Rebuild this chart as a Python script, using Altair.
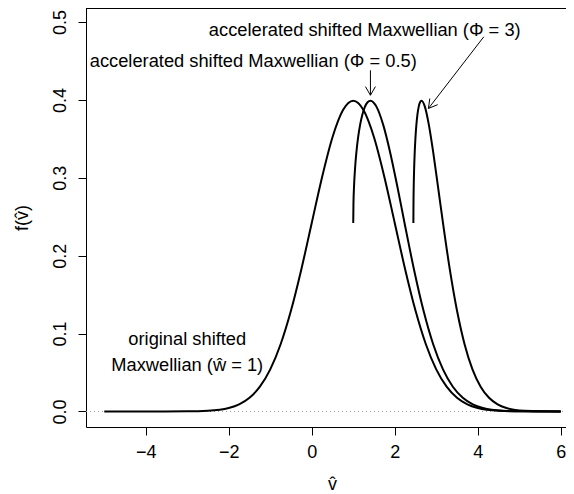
import math
import altair as alt
import pandas as pd

# ---------------- data ----------------
# original shifted Maxwellian (w = 1)
orig_x = [-5, -4, -3, -2.5, -2, -1.75, -1.5, -1.25, -1, -0.75, -0.5, -0.25, 0, 0.25, 0.5, 0.75,
          1, 1.25, 1.5, 1.75, 2, 2.25, 2.5, 2.75, 3, 3.25, 3.5, 3.75, 4, 4.5, 5, 6]
orig_y = [0.0, 0.0000015, 0.000134, 0.00087, 0.00443, 0.00909, 0.01753, 0.03174, 0.05399, 0.08628,
          0.12952, 0.18265, 0.24197, 0.30114, 0.35207, 0.38667, 0.39894, 0.38667, 0.35207, 0.30114,
          0.24197, 0.18265, 0.12952, 0.08628, 0.05399, 0.03174, 0.01753, 0.00909, 0.00443, 0.00087,
          0.000134, 0.0000015]

# accelerated shifted Maxwellian (Phi = 0.5)
acc05_x = [1.0, 1.005, 1.0198, 1.044, 1.077, 1.118, 1.1662, 1.2207, 1.2806, 1.3454, 1.4142, 1.562,
           1.7205, 1.8868, 2.0591, 2.2361, 2.4622, 2.6926, 2.9262, 3.1623, 3.4004, 3.6401, 3.8811,
           4.1231, 4.6098, 5.099, 6.0]
acc05_y = [0.24197, 0.26609, 0.28969, 0.31225, 0.33322, 0.35207, 0.36827, 0.38139, 0.39104, 0.39695,
           0.39894, 0.39104, 0.36827, 0.33322, 0.28969, 0.24197, 0.18265, 0.12952, 0.08628, 0.05399,
           0.03174, 0.01753, 0.00909, 0.00443, 0.00087, 0.000134, 0.0000022]

# accelerated shifted Maxwellian (Phi = 3)
acc3_x = [2.4495, 2.4515, 2.4576, 2.4678, 2.4819, 2.5, 2.5219, 2.5475, 2.5768, 2.6096, 2.6458, 2.7276,
          2.8213, 2.9257, 3.0397, 3.1623, 3.326, 3.5, 3.6827, 3.873, 4.0697, 4.272, 4.4791, 4.6904,
          5.1235, 5.5678, 6.0]
acc3_y = [0.24197, 0.26609, 0.28969, 0.31225, 0.33322, 0.35207, 0.36827, 0.38139, 0.39104, 0.39695,
          0.39894, 0.39104, 0.36827, 0.33322, 0.28969, 0.24197, 0.18265, 0.12952, 0.08628, 0.05399,
          0.03174, 0.01753, 0.00909, 0.00443, 0.00087, 0.000134, 0.0000191]

x_ticks = [-4, -2, 0, 2, 4, 6]
y_ticks = [0.0, 0.1, 0.2, 0.3, 0.4, 0.5]

labels_text = ["accelerated shifted Maxwellian (\u03a6 = 3)",
               "accelerated shifted Maxwellian (\u03a6 = 0.5)",
               "original shifted",
               "Maxwellian (\u0175 = 1)"]
labels_x = [1.277, -1.41, -3.0, -3.0]
labels_y = [0.488, 0.449, 0.0913, 0.0582]

# arrows: start (x, y) -> tip (x, y)
arrow_x0 = [1.414, 4.145]
arrow_y0 = [0.438, 0.481]
arrow_x1 = [1.414, 2.812]
arrow_y1 = [0.406, 0.389]

# ---------------- layout ----------------
X_DOMAIN = [-5.44, 6.127]
Y_DOMAIN = [-0.02, 0.518]
W, H = 480, 419
PX_X = W / (X_DOMAIN[1] - X_DOMAIN[0])
PX_Y = H / (Y_DOMAIN[1] - Y_DOMAIN[0])
FONT = "Liberation Sans"

curves = pd.concat([
    pd.DataFrame({"series": "orig", "x": orig_x, "y": orig_y}),
    pd.DataFrame({"series": "acc05", "x": acc05_x, "y": acc05_y}),
    pd.DataFrame({"series": "acc3", "x": acc3_x, "y": acc3_y}),
], ignore_index=True)

segs = []
HEAD = 10.0
ANG = math.radians(30)
for x0, y0, x1, y1 in zip(arrow_x0, arrow_y0, arrow_x1, arrow_y1):
    segs.append({"x": x0, "y": y0, "x2": x1, "y2": y1})
    dx = (x1 - x0) * PX_X
    dy = -(y1 - y0) * PX_Y
    n = math.hypot(dx, dy)
    bx, by = -dx / n, -dy / n
    for a in (ANG, -ANG):
        rx = bx * math.cos(a) - by * math.sin(a)
        ry = bx * math.sin(a) + by * math.cos(a)
        segs.append({"x": x1, "y": y1, "x2": x1 + HEAD * rx / PX_X, "y2": y1 - HEAD * ry / PX_Y})
segs = pd.DataFrame(segs)

texts = pd.DataFrame({"t": labels_text, "x": labels_x, "y": labels_y})

xs = alt.Scale(domain=X_DOMAIN, nice=False, zero=False)
ys = alt.Scale(domain=Y_DOMAIN, nice=False, zero=False)

x_axis = alt.Axis(values=x_ticks, format="d", grid=False, tickSize=8, labelPadding=8.5,
                  labelFlush=False, title="v\u0302", titleBaseline="alphabetic", titleY=62,
                  titleX=332 - 86, titleAlign="center")
y_axis = alt.Axis(values=y_ticks, format=".1f", grid=False, tickSize=8, labelPadding=13,
                  labelAngle=-90, labelAlign="center", labelBaseline="alphabetic",
                  labelFlush=False, title="f(v\u0302)", titleBaseline="alphabetic",
                  titleX=-59, titleAngle=270, titleAlign="center")

base = alt.Chart(curves)

lines = base.mark_line(color="black", strokeWidth=2, interpolate="monotone", clip=True).encode(
    x=alt.X("x:Q", scale=xs, axis=x_axis),
    y=alt.Y("y:Q", scale=ys, axis=y_axis),
    detail="series:N",
)

zero_line = alt.Chart(pd.DataFrame({"y": [0.0]})).mark_rule(
    color="#9a9a9a", strokeWidth=1, strokeDash=[1, 3]).encode(
    y=alt.Y("y:Q", scale=ys), x=alt.value(0), x2=alt.value(W))

top_frame = alt.Chart(pd.DataFrame({"a": [0]})).mark_rule(color="black", strokeWidth=1).encode(
    y=alt.value(0.5), x=alt.value(0), x2=alt.value(W))

arrows = alt.Chart(segs).mark_rule(color="black", strokeWidth=1).encode(
    x=alt.X("x:Q", scale=xs), y=alt.Y("y:Q", scale=ys),
    x2="x2:Q", y2="y2:Q")

labels = alt.Chart(texts).mark_text(font=FONT, fontSize=18.3, color="black",
                                    align="center", baseline="middle").encode(
    x=alt.X("x:Q", scale=xs), y=alt.Y("y:Q", scale=ys), text="t:N")

chart = alt.layer(zero_line, lines, arrows, labels, top_frame).properties(
    width=W, height=H,
    autosize=alt.AutoSizeParams(type="none"),
    padding={"left": 78, "top": 0, "right": 0, "bottom": 67},
).configure_view(stroke=None).configure_axis(
    labelFont=FONT, titleFont=FONT, labelFontSize=18, titleFontSize=18,
    titleFontWeight="normal", labelColor="black", titleColor="black",
    tickColor="black", domainColor="black", tickWidth=1, domainWidth=1,
)

chart.save("out.html", embed_options={"renderer": "svg", "actions": False})
